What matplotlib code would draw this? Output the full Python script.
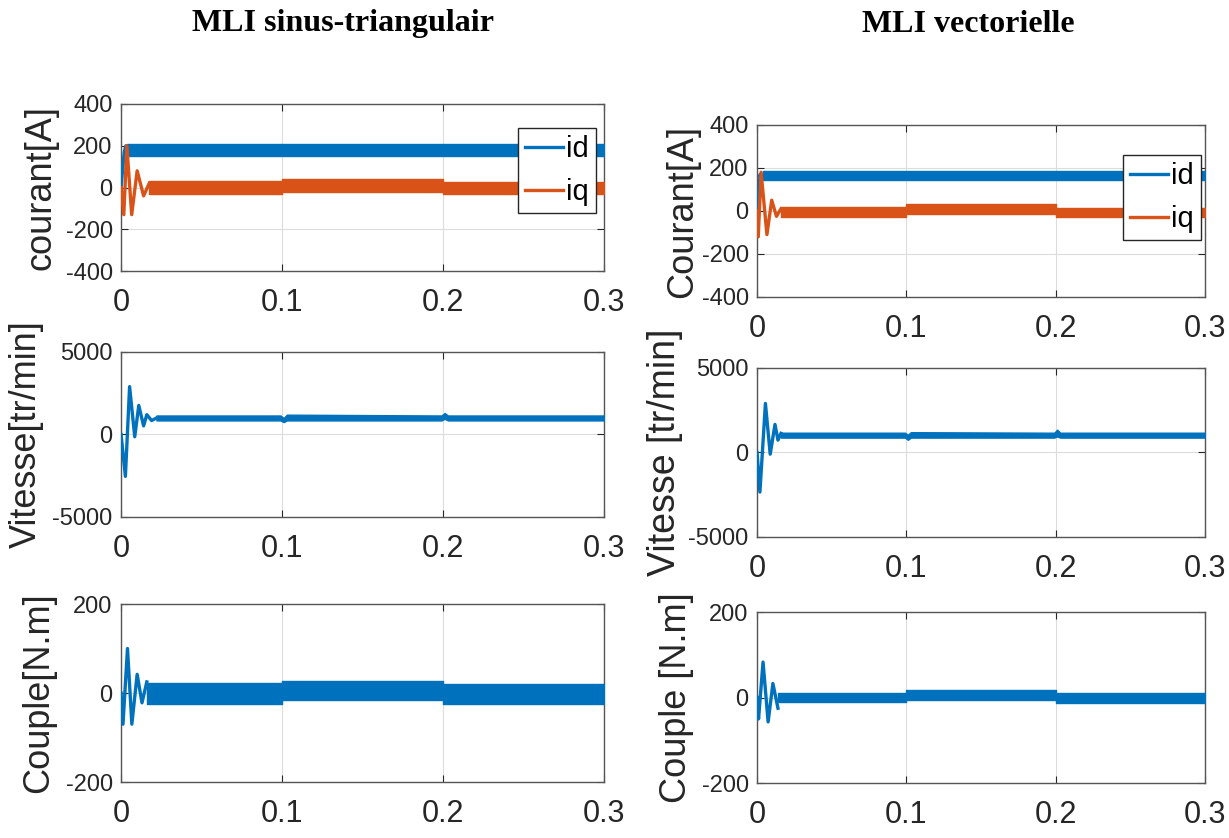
import numpy as np
import matplotlib
matplotlib.use("Agg")
import matplotlib.pyplot as plt

BLUE = "#0072BD"
ORANGE = "#D95319"

# ---- data (t in s) ----
# left column: MLI sinus-triangulaire
L_id_t = [0, 0.001, 0.002, 0.003, 0.004]
L_id_y = [0, 90, 170, 200, 180]
L_id_bt = [0.004, 0.3]
L_id_lo = [152, 152]
L_id_hi = [208, 208]

L_iq_t = [0, 0.0017, 0.0036, 0.0066, 0.010, 0.014, 0.0175]
L_iq_y = [0, -130, 200, -130, 80, -40, 20]
L_iq_bt = [0.0175, 0.1, 0.1, 0.2, 0.2, 0.3]
L_iq_lo = [-32, -32, -22, -22, -32, -32]
L_iq_hi = [30, 30, 40, 40, 28, 28]

L_w_t = [0, 0.0027, 0.0053, 0.0085, 0.011, 0.014, 0.016, 0.019, 0.022]
L_w_y = [0, -2540, 2900, -140, 1760, 520, 1200, 840, 1000]
L_w_bt = [0.022, 0.099, 0.101, 0.103, 0.199, 0.201, 0.203, 0.3]
L_w_lo = [850, 850, 750, 850, 850, 950, 850, 850]
L_w_hi = [1150, 1150, 1000, 1200, 1150, 1300, 1150, 1150]

L_c_t = [0, 0.0012, 0.004, 0.0067, 0.010, 0.013, 0.016]
L_c_y = [0, -70, 100, -70, 42, -22, 25]
L_c_bt = [0.016, 0.1, 0.1, 0.2, 0.2, 0.3]
L_c_lo = [-24, -24, -16, -16, -24, -24]
L_c_hi = [22, 22, 28, 28, 20, 20]

# right column: MLI vectorielle
R_id_t = [0, 0.001, 0.002, 0.003, 0.004]
R_id_y = [0, 80, 170, 140, 165]
R_id_bt = [0.004, 0.3]
R_id_lo = [145, 145]
R_id_hi = [185, 185]

R_iq_t = [0, 0.0008, 0.0027, 0.0066, 0.0098, 0.013, 0.016]
R_iq_y = [0, -120, 180, -110, 50, -25, 10]
R_iq_bt = [0.016, 0.1, 0.1, 0.2, 0.2, 0.3]
R_iq_lo = [-28, -28, -12, -12, -28, -28]
R_iq_hi = [18, 18, 34, 34, 14, 14]

R_w_t = [0, 0.0019, 0.0056, 0.0088, 0.012, 0.014, 0.016]
R_w_y = [0, -2340, 2900, -100, 1660, 730, 1130]
R_w_bt = [0.016, 0.099, 0.101, 0.103, 0.199, 0.201, 0.203, 0.3]
R_w_lo = [880, 880, 750, 880, 880, 950, 880, 880]
R_w_hi = [1170, 1170, 1050, 1200, 1170, 1350, 1170, 1170]

R_c_t = [0, 0.001, 0.004, 0.0074, 0.0106, 0.014]
R_c_y = [0, -50, 83, -57, 33, -25]
R_c_bt = [0.014, 0.1, 0.1, 0.2, 0.2, 0.3]
R_c_lo = [-11, -11, -5, -5, -12, -12]
R_c_hi = [10, 10, 17, 17, 10, 10]

xticks = [0, 0.1, 0.2, 0.3]
xticklabels = ["0", "0.1", "0.2", "0.3"]


def trace(ax, t, y, bt, lo, hi, color, label=None):
    line, = ax.plot(t, y, color=color, lw=2.4, label=label, zorder=3)
    ax.fill_between(bt, lo, hi, color=color, lw=1.0, edgecolor=color, zorder=3)
    return line


def style(ax, ylim, yticks, ylabel, lab_x, lab_size):
    ax.set_xlim(0, 0.3)
    ax.set_ylim(*ylim)
    ax.set_xticks(xticks)
    ax.set_xticklabels(xticklabels, fontfamily="Liberation Sans", fontsize=22)
    ax.set_yticks(yticks)
    ax.set_yticklabels([str(v) for v in yticks], fontfamily="Liberation Sans", fontsize=17)
    ax.tick_params(direction="in", top=True, right=True, length=5, width=0.8,
                   color="#262626", pad=6, labelcolor="#262626")
    ax.tick_params(axis="x", pad=12)
    ax.grid(True, color="#dcdcdc", lw=0.8)
    ax.set_axisbelow(True)
    for s in ax.spines.values():
        s.set_color("#555555")
        s.set_linewidth(1.0)
    ax.set_ylabel(ylabel, fontfamily="Liberation Sans", fontsize=lab_size, color="#262626")
    ax.yaxis.set_label_coords(lab_x, 0.5)


fig = plt.figure(figsize=(12.29, 8.38), dpi=100)

fig.text(343 / 1229, 1 - 24 / 838, "MLI sinus-triangulair", ha="center", va="center",
         fontfamily="Liberation Serif", fontweight="bold", fontsize=23)
fig.text(968 / 1229, 1 - 24 / 838, "MLI vectorielle", ha="center", va="center",
         fontfamily="Liberation Serif", fontweight="bold", fontsize=23)

legend_kw = dict(loc="upper left", prop={"family": "Liberation Sans", "size": 21},
                 fancybox=False, framealpha=1, edgecolor="#262626", handlelength=1.3,
                 handletextpad=0.1, labelspacing=0.5, borderpad=0.25, borderaxespad=0)

# left column
ax = fig.add_axes([0.0985, 0.6766, 0.393, 0.1993])
h1 = trace(ax, L_id_t, L_id_y, L_id_bt, L_id_lo, L_id_hi, BLUE, "id")
h2 = trace(ax, L_iq_t, L_iq_y, L_iq_bt, L_iq_lo, L_iq_hi, ORANGE, "iq")
style(ax, (-400, 400), [-400, -200, 0, 200, 400], "courant[A]", -0.13, 26)
ax.legend(handles=[h1, h2], bbox_to_anchor=(0.822, 0.856), **legend_kw)

ax = fig.add_axes([0.0985, 0.3831, 0.393, 0.1969])
trace(ax, L_w_t, L_w_y, L_w_bt, L_w_lo, L_w_hi, BLUE)
style(ax, (-5000, 5000), [-5000, 0, 5000], "Vitesse[tr/min]", -0.16, 26)

ax = fig.add_axes([0.0985, 0.0668, 0.393, 0.2124])
trace(ax, L_c_t, L_c_y, L_c_bt, L_c_lo, L_c_hi, BLUE)
style(ax, (-200, 200), [-200, 0, 200], "Couple[N.m]", -0.135, 26)

# right column
ax = fig.add_axes([0.616, 0.6456, 0.3645, 0.2053])
h1 = trace(ax, R_id_t, R_id_y, R_id_bt, R_id_lo, R_id_hi, BLUE, "id")
h2 = trace(ax, R_iq_t, R_iq_y, R_iq_bt, R_iq_lo, R_iq_hi, ORANGE, "iq")
style(ax, (-400, 400), [-400, -200, 0, 200, 400], "Courant[A]", -0.128, 26)
ax.legend(handles=[h1, h2], bbox_to_anchor=(0.817, 0.826), **legend_kw)

ax = fig.add_axes([0.616, 0.3592, 0.3645, 0.2017])
trace(ax, R_w_t, R_w_y, R_w_bt, R_w_lo, R_w_hi, BLUE)
style(ax, (-5000, 5000), [-5000, 0, 5000], "Vitesse [tr/min]", -0.165, 27)

ax = fig.add_axes([0.616, 0.0656, 0.3645, 0.204])
trace(ax, R_c_t, R_c_y, R_c_bt, R_c_lo, R_c_hi, BLUE)
style(ax, (-200, 200), [-200, 0, 200], "Couple [N.m]", -0.14, 26)

fig.savefig("out.png", dpi=100)
